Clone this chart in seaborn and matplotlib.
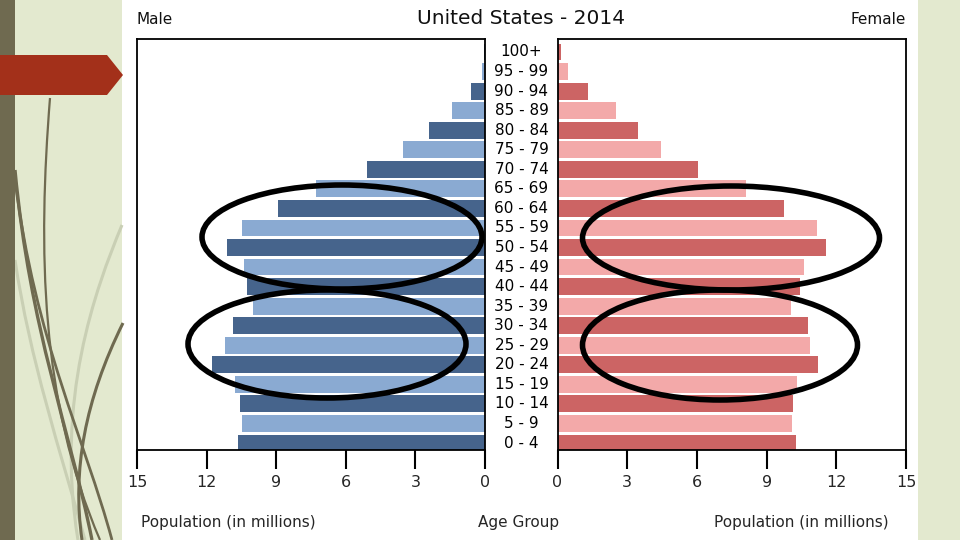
import matplotlib
matplotlib.use("Agg")
import matplotlib.pyplot as plt
from matplotlib.patches import Rectangle, Ellipse, Polygon, PathPatch
from matplotlib.path import Path
import seaborn as sns
import pandas as pd

# ---- data (top to bottom) ----
age_groups = ["100+", "95 - 99", "90 - 94", "85 - 89", "80 - 84", "75 - 79", "70 - 74",
              "65 - 69", "60 - 64", "55 - 59", "50 - 54", "45 - 49", "40 - 44", "35 - 39",
              "30 - 34", "25 - 29", "20 - 24", "15 - 19", "10 - 14", "5 - 9", "0 - 4"]
male = [0.05, 0.12, 0.6, 1.42, 2.41, 3.53, 5.09, 7.28, 8.92, 10.47, 11.12, 10.39, 10.26,
        10.0, 10.86, 11.2, 11.77, 10.78, 10.56, 10.47, 10.65]
female = [0.15, 0.45, 1.31, 2.52, 3.47, 4.46, 6.06, 8.1, 9.76, 11.18, 11.57, 10.62, 10.45,
          10.06, 10.8, 10.88, 11.23, 10.32, 10.15, 10.1, 10.28]
x_ticks = [0, 3, 6, 9, 12, 15]
title = "United States - 2014"

DARK_BLUE, LIGHT_BLUE = "#46648c", "#8aaad2"
DARK_RED, LIGHT_RED = "#cc6464", "#f3a9a9"

df = pd.DataFrame({"age": age_groups, "male": male, "female": female})
n = len(age_groups)
# alternate colours: 0-4 (last) dark
male_pal = {a: (DARK_BLUE if (n - 1 - i) % 2 == 0 else LIGHT_BLUE) for i, a in enumerate(age_groups)}
female_pal = {a: (DARK_RED if (n - 1 - i) % 2 == 0 else LIGHT_RED) for i, a in enumerate(age_groups)}

sns.set_style("white")
plt.rcParams["font.family"] = ["DejaVu Sans"]

W, H = 960, 540
fig = plt.figure(figsize=(9.6, 5.4), dpi=100)
fig.patch.set_facecolor("#e3e9cf")

def fx(px):
    return px / W

def fy(py):
    return (H - py) / H

# ---- slide decoration ----
fig.add_artist(Rectangle((fx(122), 0), fx(918) - fx(122), 1, transform=fig.transFigure,
                         facecolor="white", edgecolor="none", zorder=0))
curves = [
    ([(122, 225), (95, 290), (55, 400), (78, 540)], "#c9cfb4", 2.2),
    ([(15, 260), (30, 360), (60, 450), (85, 540)], "#c9cfb4", 2.2),
    ([(50, 98), (38, 250), (40, 400), (100, 540)], "#6f6a50", 1.6),
    ([(15, 170), (30, 330), (70, 430), (92, 540)], "#6f6a50", 2.4),
    ([(15, 180), (35, 340), (85, 440), (112, 540)], "#6f6a50", 2.0),
    ([(123, 323), (85, 400), (72, 470), (82, 540)], "#6f6a50", 2.2),
]
for c, col, lw in curves:
    verts = [(fx(x), fy(y)) for x, y in c]
    path = Path(verts, [Path.MOVETO, Path.CURVE4, Path.CURVE4, Path.CURVE4])
    fig.add_artist(PathPatch(path, transform=fig.transFigure, facecolor="none",
                             edgecolor=col, lw=lw, zorder=1))
fig.add_artist(Rectangle((0, 0), fx(15), 1, transform=fig.transFigure,
                         facecolor="#6f6a50", edgecolor="none", zorder=2))
fig.add_artist(Polygon([(fx(0), fy(55)), (fx(107), fy(55)), (fx(123), fy(75)),
                        (fx(107), fy(95)), (fx(0), fy(95))], closed=True,
                       transform=fig.transFigure, facecolor="#a3301a", edgecolor="none", zorder=3))

# ---- axes ----
ax_l = fig.add_axes([fx(137), fy(450), fx(485) - fx(137), fy(39) - fy(450)])
ax_r = fig.add_axes([fx(557.5), fy(450), fx(906) - fx(557.5), fy(39) - fy(450)])

sns.barplot(data=df, x="male", y="age", hue="age", palette=male_pal, order=age_groups,
            hue_order=age_groups, orient="h", width=0.86, legend=False, ax=ax_l,
            saturation=1, edgecolor="none", linewidth=0)
sns.barplot(data=df, x="female", y="age", hue="age", palette=female_pal, order=age_groups,
            hue_order=age_groups, orient="h", width=0.86, legend=False, ax=ax_r,
            saturation=1, edgecolor="none", linewidth=0)

ylim = (n - 1 + 0.36, -0.665)
for ax in (ax_l, ax_r):
    ax.set_facecolor("white")
    ax.set_ylim(*ylim)
    ax.set_yticks([])
    ax.set_ylabel("")
    ax.set_xlabel("")
    ax.set_xticks(x_ticks)
    ax.set_xticklabels([str(t) for t in x_ticks])
    ax.tick_params(axis="x", direction="out", length=14, width=1.5, color="black",
                   labelsize=11.5, pad=4, bottom=True)
    for s in ax.spines.values():
        s.set_visible(True)
        s.set_color("black")
        s.set_linewidth(1.3)

ax_l.set_xlim(15, 0)
ax_r.set_xlim(0, 15)

# age labels between the panels
for i, a in enumerate(age_groups):
    y_px = 52 + i * (443 - 52) / (n - 1)
    fig.text(fx(521.5), fy(y_px), a, ha="center", va="center", fontsize=11, color="black")

fig.text(fx(521.5), fy(18), title, ha="center", va="center", fontsize=14.5, color="#111111")
fig.text(fx(136), fy(20), "Male", ha="left", va="center", fontsize=11, color="#111111")
fig.text(fx(906), fy(20), "Female", ha="right", va="center", fontsize=11, color="#111111")
fig.text(fx(228), fy(522), "Population (in millions)", ha="center", va="center", fontsize=11)
fig.text(fx(519), fy(522), "Age Group", ha="center", va="center", fontsize=11)
fig.text(fx(801), fy(522), "Population (in millions)", ha="center", va="center", fontsize=11)

# ---- hand-drawn highlight ellipses ----
ellipses = [(342, 237, 280, 104), (327, 344, 278, 108), (731, 238, 297, 104), (720, 345, 275, 110)]
for cx, cy, w, h in ellipses:
    fig.add_artist(Ellipse((fx(cx), fy(cy)), w / W, h / H, transform=fig.transFigure,
                           facecolor="none", edgecolor="black", lw=4, zorder=10))

fig.savefig("out.png", dpi=100, facecolor=fig.get_facecolor())
